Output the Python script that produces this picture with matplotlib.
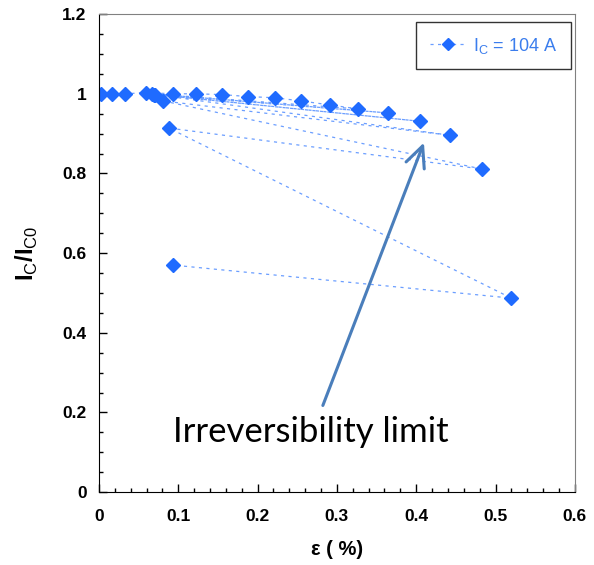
import numpy as np
import matplotlib
matplotlib.use("Agg")
from matplotlib import pyplot as plt
from matplotlib.ticker import MultipleLocator

plt.rcParams['mathtext.fontset'] = 'custom'
plt.rcParams['mathtext.rm'] = 'Liberation Sans'
plt.rcParams['mathtext.bf'] = 'Liberation Sans:bold'

# strain (%) in measurement order: loading steps with unloading in between
strain = [0.003, 0.016, 0.033, 0.059, 0.093, 0.122, 0.155, 0.188, 0.222, 0.255,
          0.291, 0.327, 0.067, 0.364, 0.069, 0.405, 0.071, 0.442, 0.081, 0.483,
          0.088, 0.520, 0.093]
# normalised critical current Ic/Ic0
ic_ratio = [1.000, 1.000, 1.000, 1.003, 1.000, 1.000, 0.998, 0.993, 0.990, 0.982,
            0.972, 0.962, 1.000, 0.952, 0.998, 0.931, 0.998, 0.896, 0.982, 0.811,
            0.914, 0.487, 0.570]
series_label = r'I$_\mathrm{C}$ = 104 A'

blue = '#1f6bff'
line_blue = '#6b9eff'

fig = plt.figure(figsize=(5.94, 5.65), dpi=100)
ax = fig.add_axes([0.1667, 0.129, 0.801, 0.846])

ax.plot(strain, ic_ratio, color=line_blue, ls=(0, (2.5, 3.5)), lw=0.9,
        marker='D', ms=7, mfc=blue, mec=blue, label=series_label)

ax.set_xlim(0, 0.6)
ax.set_ylim(0, 1.2)
ax.xaxis.set_minor_locator(MultipleLocator(0.02))
ax.yaxis.set_minor_locator(MultipleLocator(0.05))
ax.set_xticks(np.arange(0, 0.61, 0.1))
ax.set_xticklabels(['0', '0.1', '0.2', '0.3', '0.4', '0.5', '0.6'])
ax.set_yticks(np.arange(0, 1.21, 0.2))
ax.set_yticklabels(['0', '0.2', '0.4', '0.6', '0.8', '1', '1.2'])
ax.tick_params(which='both', direction='in', top=False, right=False)
ax.tick_params(which='major', length=6, width=1, labelsize=12.5)
ax.tick_params(axis='x', which='major', pad=12)
ax.tick_params(axis='y', which='major', pad=9)
ax.tick_params(which='minor', length=3, width=1)
for lab in ax.get_xticklabels() + ax.get_yticklabels():
    lab.set_fontweight('bold')
    lab.set_family('Liberation Sans')

ax.spines['left'].set_color('black')
ax.spines['bottom'].set_color('black')
ax.spines['top'].set_color('#808080')
ax.spines['right'].set_color('#808080')

ax.set_xlabel('ε ( %)', fontsize=14.5, fontweight='bold', family='Liberation Sans', labelpad=12)
ax.set_ylabel(r'$\mathbf{I}_\mathrm{C}\mathbf{/I}_\mathrm{C0}$', fontsize=17, labelpad=16)

leg = ax.legend(loc='upper right', fontsize=13, frameon=True, fancybox=False,
                borderpad=0.75, handlelength=2.0, handletextpad=0.4, borderaxespad=0,
                markerscale=0.85, bbox_to_anchor=(0.992, 0.983))
leg.get_frame().set_edgecolor('black')
leg.get_frame().set_linewidth(1)
for t in leg.get_texts():
    t.set_color('#3b7ded')
    t.set_family('Liberation Sans')

ax.annotate('', xy=(0.411, 0.884), xytext=(0.281, 0.211),
            arrowprops=dict(arrowstyle='->,head_length=0.75,head_width=0.35',
                            color='#4a7ebb', lw=2.2, mutation_scale=20))
ax.text(0.267, 0.1255, 'Irreversibility limit', fontsize=25, family='Lato',
        ha='center', va='baseline', color='black')

fig.savefig('out.png', dpi=100)
